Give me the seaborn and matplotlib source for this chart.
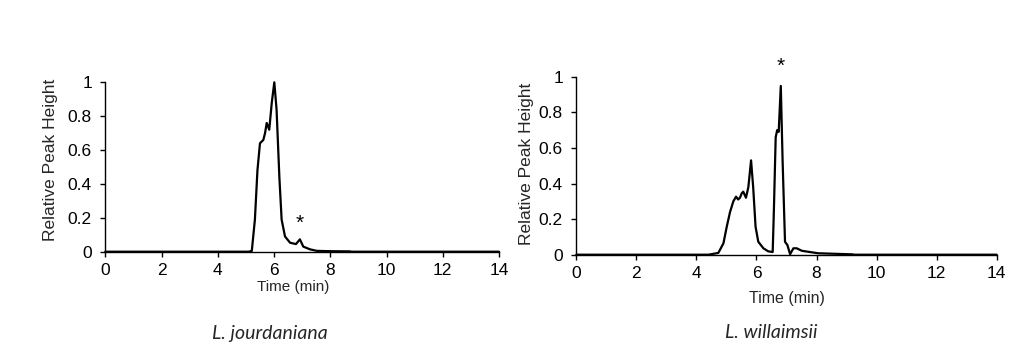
import matplotlib
matplotlib.use("Agg")
import matplotlib.pyplot as plt
import seaborn as sns
import pandas as pd

# ---- data ----
left_time = [0, 5.1, 5.21, 5.32, 5.41, 5.50, 5.62, 5.68, 5.74, 5.83, 5.92, 6.01,
             6.09, 6.19, 6.27, 6.39, 6.57, 6.78, 6.92, 7.04, 7.28, 7.52, 8.0, 8.7, 8.75, 14]
left_value = [0, 0, 0.005, 0.19, 0.48, 0.64, 0.66, 0.70, 0.76, 0.72, 0.88, 1.0,
              0.84, 0.44, 0.19, 0.09, 0.053, 0.045, 0.073, 0.03, 0.014, 0.005, 0.003, 0.002, 0, 0]

right_time = [0, 4.40, 4.73, 4.90, 5.01, 5.12, 5.23, 5.32, 5.39, 5.45, 5.51, 5.56,
              5.65, 5.73, 5.82, 5.89, 5.97, 6.06, 6.23, 6.39, 6.54, 6.58, 6.64,
              6.69, 6.74, 6.81, 6.87, 6.95, 7.03, 7.12, 7.23, 7.34, 7.51, 7.78,
              8.06, 9.2, 9.25, 14]
right_value = [0, 0, 0.01, 0.064, 0.157, 0.24, 0.30, 0.326, 0.31, 0.32, 0.345, 0.354,
               0.32, 0.38, 0.53, 0.38, 0.157, 0.073, 0.036, 0.019, 0.015, 0.25, 0.66,
               0.70, 0.69, 0.948, 0.53, 0.073, 0.054, 0.003, 0.036, 0.036, 0.022, 0.015,
               0.008, 0.002, 0, 0]

species = ["L. jourdaniana", "L. willaimsii"]
x_ticks = [0, 2, 4, 6, 8, 10, 12, 14]
y_ticks = [0, 0.2, 0.4, 0.6, 0.8, 1]
y_tick_labels = ["0", "0.2", "0.4", "0.6", "0.8", "1"]
x_label = "Time (min)"
y_label = "Relative Peak Height"
left_star = (6.9, 0.17)
right_star = (6.82, 1.06)

sns.set_style("ticks")
plt.rcParams['font.family'] = ['Liberation Sans', 'DejaVu Sans']

fig = plt.figure(figsize=(10.21, 3.49), dpi=100)
W, H = 1021, 349

def px_axes(l, r, t, b):
    return [l / W, 1 - b / H, (r - l) / W, (b - t) / H]

ax1 = fig.add_axes(px_axes(105.3, 499.0, 82.3, 251.7))
ax2 = fig.add_axes(px_axes(576.3, 996.7, 76.7, 254.7))

dfl = pd.DataFrame({"t": left_time, "v": left_value})
dfr = pd.DataFrame({"t": right_time, "v": right_value})

sns.lineplot(data=dfl, x="t", y="v", ax=ax1, color="black", linewidth=1.6,
             sort=False, estimator=None)
sns.lineplot(data=dfr, x="t", y="v", ax=ax2, color="black", linewidth=1.6,
             sort=False, estimator=None)

for ax in (ax1, ax2):
    ax.set_xlim(0, 14)
    ax.set_ylim(0, 1)
    ax.set_xticks(x_ticks)
    ax.set_xticklabels([str(t) for t in x_ticks])
    ax.set_yticks(y_ticks)
    ax.set_yticklabels(y_tick_labels)
    for s in ("top", "right"):
        ax.spines[s].set_visible(False)
    for s in ("left", "bottom"):
        ax.spines[s].set_color("black")
        ax.spines[s].set_linewidth(1.0)
    ax.tick_params(axis="both", colors="black", labelsize=12.5, length=3.6, width=1.0,
                   direction="out")
    ax.tick_params(axis="y", pad=6)
    ax.tick_params(axis="x", pad=4.5)
    for line in ax.get_lines():
        line.set_clip_on(False)
        line.set_solid_joinstyle("round")
    ax.set_facecolor("white")

ax1.set_xlabel(x_label, fontsize=11)
ax1.xaxis.set_label_coords((293 - 105.3) / (499 - 105.3), -(286.7 - 251.7) / (251.7 - 82.3))
ax1.set_ylabel(y_label, fontsize=12.5)
ax1.yaxis.set_label_coords((50 - 105.3) / (499 - 105.3), (251.7 - 160) / (251.7 - 82.3))

ax2.set_xlabel(x_label, fontsize=11.5)
ax2.xaxis.set_label_coords(0.5, -(299 - 254.7) / (254.7 - 76.7))
ax2.set_ylabel(y_label, fontsize=12.5)
ax2.yaxis.set_label_coords((526 - 576.3) / (996.7 - 576.3), (254.7 - 164) / (254.7 - 76.7))

for lab in (ax1.xaxis.label, ax2.xaxis.label, ax1.yaxis.label, ax2.yaxis.label):
    lab.set_va("center")
    lab.set_ha("center")

ax1.text(left_star[0], left_star[1], "*", ha="center", va="center", fontsize=15,
         color="black")
ax2.text(right_star[0], right_star[1], "*", ha="center", va="center", fontsize=15,
         color="black", clip_on=False)

fig.text(270 / W, 1 - 333 / H, species[0], ha="center", va="center",
         fontsize=14, style="italic", family=["Lato", "DejaVu Sans"])
fig.text(771 / W, 1 - 333 / H, species[1], ha="center", va="center",
         fontsize=14, style="italic", family=["Lato", "DejaVu Sans"])

fig.savefig("out.png", dpi=100, facecolor="white")
